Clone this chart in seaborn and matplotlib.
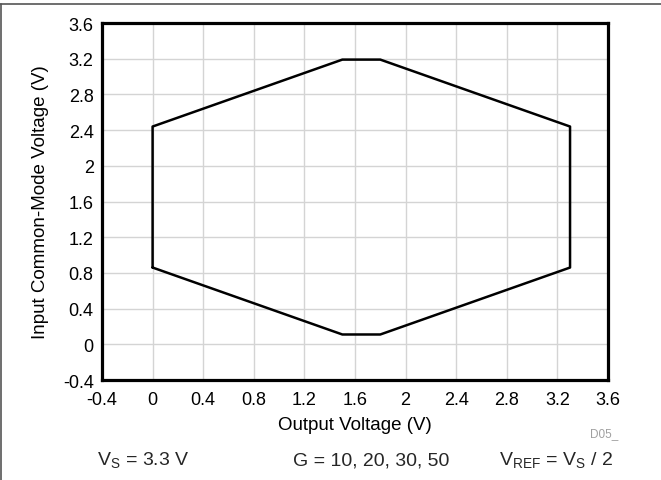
import matplotlib
matplotlib.use("Agg")
import matplotlib.pyplot as plt
import seaborn as sns
import pandas as pd
from matplotlib.lines import Line2D

# Data (closed hexagon)
output_voltage = [0.0, 0.0, 1.5, 1.8, 3.3, 3.3, 1.8, 1.5, 0.0]
input_cm_voltage = [0.86, 2.44, 3.19, 3.19, 2.44, 0.86, 0.11, 0.11, 0.86]
ticks = [-0.4, 0, 0.4, 0.8, 1.2, 1.6, 2, 2.4, 2.8, 3.2, 3.6]
tick_labels = ["-0.4", "0", "0.4", "0.8", "1.2", "1.6", "2", "2.4", "2.8", "3.2", "3.6"]

sns.set_theme(style="white")
plt.rcParams['font.family'] = ['Liberation Sans', 'DejaVu Sans']

df = pd.DataFrame({"x": output_voltage, "y": input_cm_voltage})

fig = plt.figure(figsize=(6.61, 4.81), dpi=100)
ax = fig.add_axes([0.1543, 0.2079, 0.7655, 0.7422])

sns.lineplot(data=df, x="x", y="y", sort=False, estimator=None, color="black", linewidth=1.8, ax=ax)

ax.set_xlim(-0.4, 3.6)
ax.set_ylim(-0.4, 3.6)
ax.set_xticks(ticks)
ax.set_xticklabels(tick_labels)
ax.set_yticks(ticks)
ax.set_yticklabels(tick_labels)
ax.grid(True, color="#d4d4d4", linewidth=1.0)
ax.set_axisbelow(True)
ax.tick_params(axis="both", length=0, labelsize=13, colors="black")
ax.tick_params(axis="x", pad=8)
ax.tick_params(axis="y", pad=6)
for s in ax.spines.values():
    s.set_visible(True)
    s.set_color("black")
    s.set_linewidth(2.3)
ax.set_xlabel("Output Voltage (V)", fontsize=13.5, color="black", labelpad=6)
ax.set_ylabel("Input Common-Mode Voltage (V)", fontsize=13.5, color="black", labelpad=10)

# figure frame (top and left)
fig.add_artist(Line2D([0, 1], [1 - 5/481, 1 - 5/481], transform=fig.transFigure, color="#555555", linewidth=1.2))
fig.add_artist(Line2D([1/661, 1/661], [0, 1 - 5/481], transform=fig.transFigure, color="#555555", linewidth=1.2))

fig.text(590/661, 1 - 434/481, "D05_", fontsize=8.5, color="#a0a0a0", ha="left", va="center")
fig.text(143/661, 1 - 461/481, r"V$_\mathregular{S}$ = 3.3 V", fontsize=14, ha="center", va="center")
fig.text(371/661, 1 - 461/481, "G = 10, 20, 30, 50", fontsize=14, ha="center", va="center")
fig.text(556/661, 1 - 461/481, r"V$_\mathregular{REF}$ = V$_\mathregular{S}$ / 2", fontsize=14, ha="center", va="center")

fig.savefig("out.png", dpi=100)
